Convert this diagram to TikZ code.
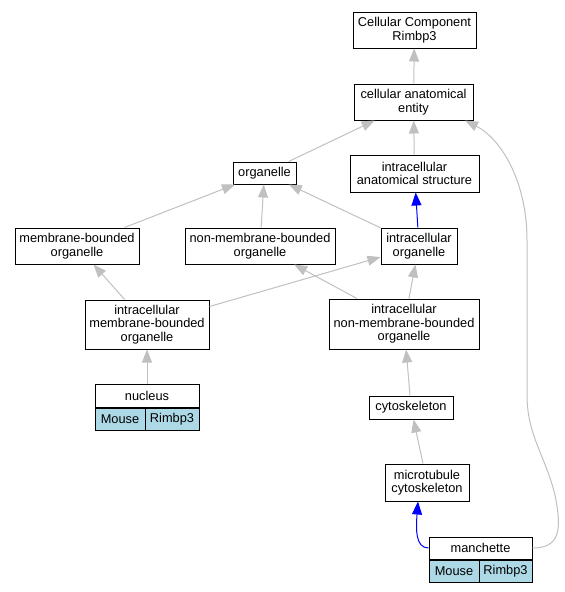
\documentclass[tikz,border=0pt]{standalone}
\usepackage{fontspec}
\setmainfont{Liberation Sans}
\usetikzlibrary{arrows.meta}
\definecolor{edgegray}{HTML}{C0C0C0}
\definecolor{celllight}{HTML}{ADD8E6}
\tikzset{
	term/.style={draw=black, line width=1pt, fill=white, align=center, inner sep=0pt, font=\fontsize{12.8}{13.6}\selectfont},
	cell/.style={term, fill=celllight, minimum height=22pt},
	edge/.style={draw=edgegray, line width=1pt, -{Triangle[length=13pt,width=10pt]}},
	isa/.style={edge, draw=blue, -{Triangle[length=13pt,width=10pt,fill=blue]}}
}
\begin{document}
\begin{tikzpicture}[x=1pt, y=-1pt]
		\useasboundingbox (0,0) rectangle (565,592);
		\node[term, minimum width=123pt, minimum height=36pt] (cc) at (414.5,30) {Cellular Component\\Rimbp3};
		\node[term, minimum width=119pt, minimum height=36pt] (cae) at (413.5,102) {cellular anatomical\\entity};
		\node[term, minimum width=63pt, minimum height=22pt] (org) at (264.5,173) {organelle};
		\node[term, minimum width=129pt, minimum height=37pt] (ias) at (414.5,173.5) {intracellular\\anatomical structure};
		\node[term, minimum width=124pt, minimum height=36pt] (mb) at (77,246) {membrane-bounded\\organelle};
		\node[term, minimum width=150pt, minimum height=36pt] (nmb) at (260,246) {non-membrane-bounded\\organelle};
		\node[term, minimum width=76pt, minimum height=36pt] (io) at (419,246) {intracellular\\organelle};
		\node[term, minimum width=124pt, minimum height=49pt] (imb) at (147,324.5) {intracellular\\membrane-bounded\\organelle};
		\node[term, minimum width=150pt, minimum height=50pt] (inmb) at (404,324) {intracellular\\non-membrane-bounded\\organelle};
		\node[term, minimum width=104pt, minimum height=23pt] (nuc) at (147,395.5) {nucleus};
		\node[cell, minimum width=50pt, anchor=north west] (nucmouse) at (nuc.south west) {Mouse};
		\node[cell, minimum width=54pt, anchor=north east] (nucgene) at (nuc.south east) {Rimbp3};
		\node[term, minimum width=84pt, minimum height=23pt] (cyto) at (411,407.5) {cytoskeleton};
		\node[term, minimum width=84pt, minimum height=37pt] (mc) at (427,482.5) {microtubule\\cytoskeleton};
		\node[term, minimum width=103pt, minimum height=22pt] (man) at (480.5,548) {manchette};
		\node[cell, minimum width=50pt, anchor=north west] (manmouse) at (man.south west) {Mouse};
		\node[cell, minimum width=53pt, anchor=north east] (mangene) at (man.south east) {Rimbp3};
		\draw[edge] (cae) -- (cc);
		\draw[edge] (org) -- (cae);
		\draw[edge] (ias) -- (cae);
		\draw[edge] (mb) -- (org);
		\draw[edge] (nmb) -- (org);
		\draw[edge] (io) -- (org);
		\draw[isa] (io) -- (ias);
		\draw[edge] (imb) -- (mb);
		\draw[edge] (imb) -- (io);
		\draw[edge] (inmb) -- (nmb);
		\draw[edge] (inmb) -- (io);
		\draw[edge] (nuc) -- (imb);
		\draw[edge] (cyto) -- (inmb);
		\draw[edge] (mc) -- (cyto);
		\draw[isa] (man.west) .. controls (415,548) and (416,528) .. ([xshift=-9pt]mc.south);
		\draw[edge] (man.east) .. controls (560,548) and (562,530) .. (555,495) .. controls (545,455) and (527,435) .. (527,395) -- (527,240) .. controls (527,180) and (500,138) .. ([xshift=51.5pt]cae.south);
\end{tikzpicture}
\end{document}
